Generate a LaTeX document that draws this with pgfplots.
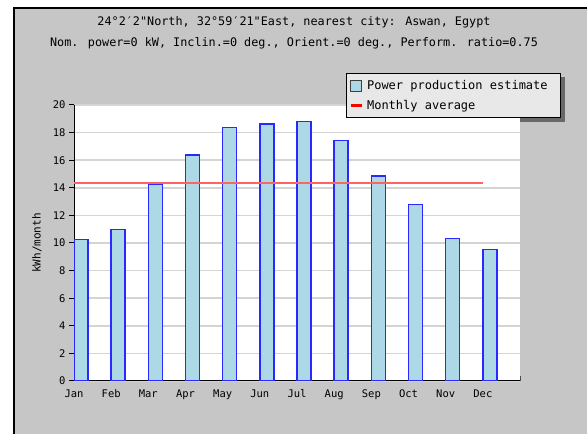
\documentclass[border=0pt]{standalone}
\usepackage{fontspec}
\usepackage{pgfplots}
\pgfplotsset{compat=1.18}
\setmainfont{DejaVu Sans Mono}
\newfontfamily\mono{DejaVu Sans Mono}
\definecolor{bggray}{RGB}{198,198,198}
\definecolor{gridgray}{RGB}{212,212,212}
\definecolor{barfill}{RGB}{173,216,230}
\definecolor{baredge}{RGB}{40,40,255}
\definecolor{avgred}{RGB}{255,100,100}
\definecolor{legfill}{RGB}{232,232,232}
\definecolor{shadowgray}{RGB}{105,105,105}
\pgfdeclarelayer{background}
\pgfsetlayers{background,main}
\pgfplotstableread{
x y
0 10.24
1 10.96
2 14.27
3 16.37
4 18.36
5 18.62
6 18.79
7 17.41
8 14.87
9 12.80
10 10.34
11 9.54
}\prod
\begin{document}
\begin{tikzpicture}[x=1bp,y=1bp]
\useasboundingbox (0,0) rectangle (587,434);
\begin{pgfonlayer}{background}
\fill[white] (0,0) rectangle (587,434);
\fill[bggray] (14,0) rectangle (587,426);
\draw[black,line width=1.5bp] (14,0) -- (14,426) -- (587,426);
\end{pgfonlayer}
\node[font=\mono\fontsize{11.8bp}{14bp}\selectfont] at (294,412) {24°2′2"North, 32°59′21"East, nearest city: Aswan, Egypt};
\node[font=\mono\fontsize{11.8bp}{14bp}\selectfont] at (294,391) {Nom. power=0 kW, Inclin.=0 deg., Orient.=0 deg., Perform. ratio=0.75};
\begin{axis}[
  at={(74bp,53bp)}, anchor=south west,
  scale only axis, width=446bp, height=276bp,
  xmin=0, xmax=12, ymin=0, ymax=20,
  axis background/.style={fill=white},
  axis x line*=bottom, axis y line*=left,
  axis line style={-, black, line width=1bp},
  xtick={0,...,12},
  xticklabels={Jan,Feb,Mar,Apr,May,Jun,Jul,Aug,Sep,Oct,Nov,Dec,},
  ytick={0,2,...,20},
  tick align=outside,
  major tick length=5bp,
  major x tick style={black!70, yshift=5bp, line width=1bp},
  major y tick style={black, line width=1bp},
  ymajorgrids,
  grid style={gridgray, line width=1.5bp},
  ylabel={kWh/month},
  ylabel style={at={(axis description cs:-0.083,0.5)}, anchor=center, font=\mono\fontsize{11bp}{13bp}\selectfont},
  tick label style={font=\mono\fontsize{10.5bp}{12bp}\selectfont},
  /pgf/number format/assume math mode=true,
  legend cell align=left,
  legend style={name=leg, at={(axis description cs:0.61,1.116)}, anchor=north west,
    fill=legfill, draw=black, line width=1bp,
    font=\mono\fontsize{12bp}{14bp}\selectfont,
    inner xsep=3bp, inner ysep=5bp, row sep=5bp,
    /tikz/every odd column/.append style={column sep=2bp},
    /tikz/every even column/.append style={column sep=0bp}},
]
\addplot[ybar, bar width=14bp, bar shift=7bp, fill=barfill, draw=baredge, line width=1.5bp,
  legend image code/.code={\draw[fill=barfill,draw=black!75,line width=0.8bp] (0bp,-5.5bp) rectangle (11bp,5.5bp);}]
  table[x=x,y=y] {\prod};
\addlegendentry{Power production estimate\kern8bp\null}
\addplot[avgred, line width=2bp,
  legend image code/.code={\draw[red,line width=2.5bp] (0bp,0bp) -- (11bp,0bp);}]
  coordinates {(0,14.37) (11,14.37)};
\addlegendentry{Monthly average}
\end{axis}
\begin{pgfonlayer}{background}
\fill[shadowgray] ([xshift=4bp,yshift=-4bp]leg.south west) rectangle ([xshift=4bp,yshift=-4bp]leg.north east);
\end{pgfonlayer}
\end{tikzpicture}
\end{document}
